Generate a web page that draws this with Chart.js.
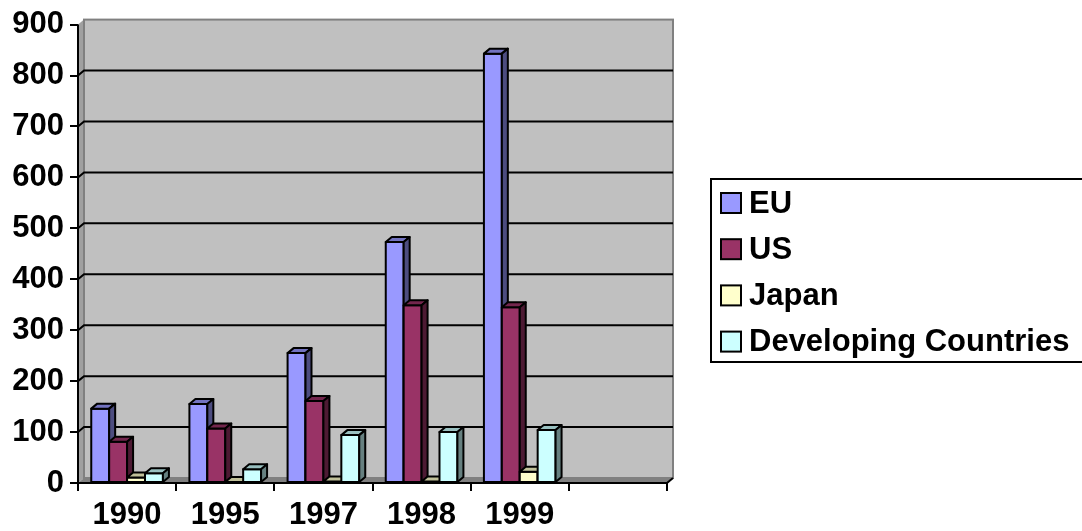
<!DOCTYPE html>
<html>
<head>
<meta charset="utf-8">
<script src="https://cdn.jsdelivr.net/npm/chart.js@4.4.1/dist/chart.umd.min.js"></script>
<style>
  html, body { margin: 0; padding: 0; background: #fff; }
  #wrap { width: 1082px; height: 531px; position: relative; }
</style>
</head>
<body>
<div id="wrap"><canvas id="chart"></canvas></div>
<script>
const years = ['1990', '1995', '1997', '1998', '1999', ''];
const eu = [146, 155, 255, 473, 843, null];
const us = [81, 107, 161, 349, 345, null];
const japan = [11, 2, 3, 3, 22, null];
const developing = [19, 27, 94, 100, 104, null];
const seriesNames = ['EU', 'US', 'Japan', 'Developing Countries'];

// front / top / side colours for the fake 3D look
const front = ['#9999FF', '#993366', '#FFFFCC', '#CCFFFF'];
const topFace = ['#7373C0', '#73264D', '#C0C099', '#99C0C0'];
const sideFace = ['#4D4D80', '#4D1A33', '#80806A', '#668080'];

const DX = 6, DY = -5;
const FONT = "'Liberation Sans', Arial, sans-serif";

const threeD = {
  id: 'threeD',
  beforeDatasetsDraw(chart) {
    const ctx = chart.ctx;
    const a = chart.chartArea;
    const y = chart.scales.y;
    ctx.save();
    // left side wall
    ctx.fillStyle = '#A0A0A0';
    ctx.beginPath();
    ctx.moveTo(a.left, a.top); ctx.lineTo(a.left + DX, a.top + DY);
    ctx.lineTo(a.left + DX, a.bottom + DY); ctx.lineTo(a.left, a.bottom);
    ctx.closePath(); ctx.fill();
    // back wall
    ctx.fillStyle = '#C0C0C0';
    ctx.fillRect(a.left + DX, a.top + DY, a.right - a.left, a.bottom - a.top);
    ctx.strokeStyle = '#808080';
    ctx.lineWidth = 2;
    ctx.strokeRect(a.left + DX, a.top + DY, a.right - a.left, a.bottom - a.top);
    // floor
    ctx.fillStyle = '#808080';
    ctx.beginPath();
    ctx.moveTo(a.left, a.bottom); ctx.lineTo(a.left + DX, a.bottom + DY);
    ctx.lineTo(a.right + DX, a.bottom + DY); ctx.lineTo(a.right, a.bottom);
    ctx.closePath(); ctx.fill();
    // grid lines on the back wall
    ctx.strokeStyle = '#000';
    ctx.lineWidth = 2;
    y.ticks.forEach(t => {
      if (t.value === 0 || t.value === 900) return;
      const py = y.getPixelForValue(t.value);
      ctx.beginPath();
      ctx.moveTo(a.left, py);
      ctx.lineTo(a.left + DX, py + DY);
      ctx.lineTo(a.right + DX, py + DY);
      ctx.stroke();
    });
    // axes
    ctx.beginPath();
    ctx.moveTo(a.left, a.top); ctx.lineTo(a.left, a.bottom); ctx.lineTo(a.right, a.bottom);
    ctx.lineTo(a.right + DX, a.bottom + DY);
    ctx.stroke();
    ctx.restore();
  },
  afterDatasetsDraw(chart) {
    const ctx = chart.ctx;
    ctx.save();
    ctx.lineWidth = 2;
    ctx.strokeStyle = '#000';
    ctx.lineJoin = 'round';
    const n = chart.data.labels.length;
    for (let i = 0; i < n; i++) {
      chart.data.datasets.forEach((ds, d) => {
        const bar = chart.getDatasetMeta(d).data[i];
        if (!bar || ds.data[i] == null) return;
        const l = bar.x - bar.width / 2, r = bar.x + bar.width / 2;
        const t = bar.y, b = bar.base;
        ctx.fillStyle = front[d];
        ctx.fillRect(l, t, r - l, b - t);
        ctx.strokeRect(l, t, r - l, b - t);
        ctx.fillStyle = topFace[d];
        ctx.beginPath();
        ctx.moveTo(l, t); ctx.lineTo(l + DX, t + DY); ctx.lineTo(r + DX, t + DY); ctx.lineTo(r, t);
        ctx.closePath(); ctx.fill(); ctx.stroke();
        ctx.fillStyle = sideFace[d];
        ctx.beginPath();
        ctx.moveTo(r, t); ctx.lineTo(r + DX, t + DY); ctx.lineTo(r + DX, b + DY); ctx.lineTo(r, b);
        ctx.closePath(); ctx.fill(); ctx.stroke();
      });
    }
    ctx.restore();
  },
  afterDraw(chart) {
    // legend box, runs off the right edge like the original
    const ctx = chart.ctx;
    ctx.save();
    ctx.strokeStyle = '#000';
    ctx.lineWidth = 2;
    ctx.strokeRect(711, 179, 400, 183);
    ctx.font = 'bold 31px ' + FONT;
    ctx.textBaseline = 'middle';
    chart.data.datasets.forEach((ds, d) => {
      const cy = 203 + d * 46.2;
      ctx.fillStyle = front[d];
      ctx.fillRect(721, cy - 10, 20, 20);
      ctx.strokeRect(721, cy - 10, 20, 20);
      ctx.fillStyle = '#000';
      ctx.fillText(ds.label, 749, cy + 1);
    });
    ctx.restore();
  }
};

const data = {
  labels: years,
  datasets: [
    { label: seriesNames[0], data: eu },
    { label: seriesNames[1], data: us },
    { label: seriesNames[2], data: japan },
    { label: seriesNames[3], data: developing }
  ].map((ds, i) => Object.assign(ds, {
    backgroundColor: front[i],
    borderColor: '#000',
    borderWidth: 2,
    barPercentage: 1,
    categoryPercentage: 0.73
  }))
};

new Chart(document.getElementById('chart'), {
  type: 'bar',
  data: data,
  options: {
    responsive: true,
    maintainAspectRatio: false,
    animation: false,
    layout: { padding: { top: 24, right: 415, bottom: 0, left: 0 } },
    plugins: { legend: { display: false }, tooltip: { enabled: false } },
    scales: {
      x: {
        afterFit(s) { s.height = 48; },
        border: { display: false },
        grid: { drawOnChartArea: false, drawTicks: true, tickLength: 8, color: '#000', lineWidth: 2 },
        ticks: { color: '#000', padding: 6, maxRotation: 0, font: { family: FONT, size: 31, weight: 'bold' } }
      },
      y: {
        min: 0,
        max: 900,
        afterFit(s) { s.width = 78; },
        border: { display: false },
        grid: { drawOnChartArea: false, drawTicks: true, tickLength: 8, color: '#000', lineWidth: 2 },
        ticks: { stepSize: 100, color: '#000', padding: 6, font: { family: FONT, size: 31, weight: 'bold' } }
      }
    }
  },
  plugins: [threeD]
});
</script>
</body>
</html>
